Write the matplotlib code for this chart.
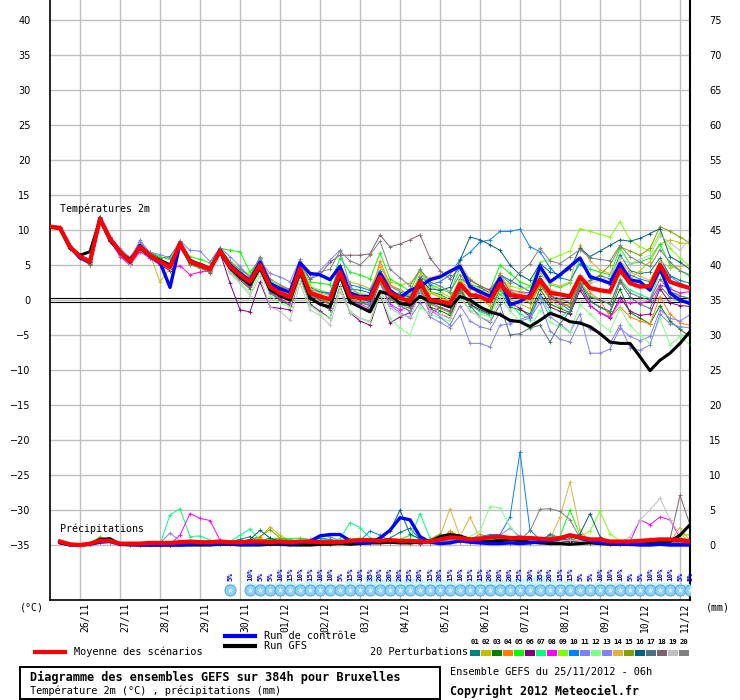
import numpy as np
import matplotlib
matplotlib.use('Agg')
import matplotlib.pyplot as plt
from matplotlib.lines import Line2D
from matplotlib.patches import Rectangle
import matplotlib.transforms as mtransforms

# run 25/11/2012 06h, one value every 6 h up to 384 h
hours = np.arange(0, 385, 6)
days = ['26/11', '27/11', '28/11', '29/11', '30/11', '01/12', '02/12', '03/12',
        '04/12', '05/12', '06/12', '07/12', '08/12', '09/12', '10/12', '11/12']
day_hours = np.arange(18, 385, 24)

colors = ['#008080', '#c0c000', '#008000', '#ff8000', '#00ff00', '#800080', '#00ff80',
          '#ff00ff', '#80ff00', '#0080ff', '#8080ff', '#80ff80', '#8080f0', '#e0b040',
          '#80a000', '#006080', '#507080', '#806070', '#c0c0c0', '#808080']

# ---- temperature 2m (°C)
t_mean = [10.5, 10.3, 7.6, 6.2, 5.5, 11.6, 8.8, 6.9, 5.5, 7.6, 6.4, 5.5, 4.7, 8.1, 5.5, 5.0, 4.4, 7.0,
          4.8, 3.6, 2.6, 5.0, 1.9, 1.0, 0.4, 4.5, 1.0, 0.5, 0.1, 4.0, 0.5, 0.3, 0.2, 3.3, 1.0, 0.3, -0.2,
          2.6, 0.0, -0.2, -0.5, 2.3, 0.7, 0.5, -0.2, 2.4, 0.7, 0.5, 0.3, 2.9, 1.0, 0.8, 0.5, 3.3, 1.7, 1.4,
          1.2, 4.3, 2.4, 1.9, 2.0, 5.0, 2.6, 2.1, 1.7]
t_ctrl = [10.5, 10.3, 7.6, 6.0, 5.4, 11.7, 8.7, 6.8, 5.4, 7.8, 6.3, 5.4, 1.8, 8.0, 5.6, 4.9, 4.4, 7.1,
          5.0, 3.8, 2.8, 5.4, 2.4, 1.6, 1.1, 5.3, 3.8, 3.6, 2.9, 4.8, 1.0, 0.5, 0.5, 3.8, 1.4, 0.3, 1.4,
          1.9, 2.9, 3.3, 4.1, 4.8, 1.9, 1.2, 0.5, 3.1, -0.7, -0.2, 0.7, 4.8, 2.6, 3.6, 4.8, 6.0, 3.3, 2.9,
          2.4, 5.2, 2.9, 2.6, 1.4, 4.5, 1.0, 0.0, -0.5]
t_gfs = [10.4, 10.2, 7.4, 6.4, 6.9, 11.5, 8.5, 6.8, 5.8, 7.4, 6.3, 5.7, 5.0, 7.9, 5.6, 5.1, 4.5, 6.8,
         4.6, 3.3, 2.2, 4.6, 1.5, 0.6, 0.0, 4.2, 0.3, -0.6, -1.0, 3.5, -0.3, -1.0, -1.7, 1.2, 0.8, -0.5,
         -0.7, 0.5, -0.2, -0.5, -1.0, 0.5, 0.0, -1.0, -1.7, -2.1, -2.9, -3.1, -3.8, -2.9, -1.9, -2.4, -3.1,
         -3.3, -3.8, -4.8, -6.0, -6.2, -6.2, -8.1, -10.1, -8.6, -7.6, -6.2, -4.5]

t_members = [
    [10.4, 10.2, 7.3, 6.0, 5.4, 11.9, 8.6, 6.6, 5.9, 7.8, 6.0, 5.3, 4.9, 8.4, 5.9, 5.1, 4.6, 7.4,
     5.2, 4.0, 3.0, 5.6, 2.5, 1.6, 1.0, 5.0, 1.8, 1.2, 0.8, 4.6, 1.6, 1.4, 1.0, 4.2, 2.0, 1.5, 0.6,
     3.2, 1.2, 0.8, 0.0, 3.0, 2.2, 1.8, 1.0, 3.6, 2.8, 2.0, 1.2, 3.4, 0.8, -0.5, -1.5, 2.0, 2.8, 3.5,
     3.0, 6.5, 4.2, 3.8, 4.0, 6.0, 3.5, 2.8, 2.4],
    [10.6, 10.3, 7.5, 6.4, 5.6, 11.3, 8.9, 7.1, 5.3, 7.2, 6.5, 2.6, 4.5, 7.6, 5.4, 4.8, 4.1, 6.9,
     4.4, 3.0, 2.0, 4.6, 1.5, 0.4, -0.2, 3.8, 0.6, 0.0, -0.6, 3.6, 2.6, 2.2, 1.6, 4.8, 2.6, 2.2, 2.4,
     4.0, 2.0, 1.2, 0.4, 2.6, 1.0, 0.2, -0.8, 2.0, 0.2, -0.6, -1.2, 2.2, 0.0, -1.0, -0.5, 3.0, 2.0, 1.2,
     1.0, 4.6, 3.0, 4.2, 5.5, 8.0, 8.6, 8.2, 8.0],
    [10.5, 10.4, 7.7, 6.1, 5.2, 11.4, 8.5, 7.0, 5.7, 7.9, 6.8, 6.0, 6.2, 8.3, 5.7, 5.2, 4.5, 7.2,
     4.2, 2.8, 1.6, 4.4, 1.0, 0.0, -0.8, 3.6, 0.2, -0.6, -1.4, 3.2, -0.4, -1.0, -1.4, 2.6, 0.2, -0.8, -1.6,
     1.8, -1.0, -1.5, -2.2, 1.4, -0.6, -1.6, -2.2, 1.0, -1.0, -1.4, -2.0, 1.6, -0.6, -1.2, -1.8, 2.4, -0.2, -1.0,
     -1.8, 1.6, -1.8, -2.6, -3.4, -0.8, -3.0, -4.2, -5.2],
    [10.3, 10.1, 7.8, 6.3, 5.7, 11.7, 9.0, 7.2, 5.6, 7.5, 6.5, 5.6, 4.8, 8.5, 5.6, 5.3, 4.7, 7.1,
     5.0, 3.9, 2.8, 5.4, 2.2, 1.4, 0.6, 4.6, 1.4, 0.8, 0.2, 4.4, 1.0, 0.6, 0.2, 5.6, 2.2, 1.4, 0.8,
     3.4, 1.0, 0.4, -0.2, 2.8, 1.6, 1.0, 0.2, 3.8, 1.2, 0.8, 0.4, 3.0, 1.4, 1.0, 0.6, 3.6, 1.0, 0.0,
     -2.4, -1.0, -2.4, -3.0, -3.4, 0.5, -2.0, -3.3, -3.6],
    [10.6, 10.4, 7.5, 6.0, 5.0, 11.5, 8.9, 6.8, 5.8, 7.7, 6.9, 6.2, 5.8, 7.8, 6.2, 5.8, 5.3, 7.4,
     7.1, 6.9, 4.0, 5.8, 2.6, 1.8, 1.2, 5.0, 2.6, 2.4, 2.2, 6.0, 4.0, 3.6, 3.0, 6.7, 3.0, 2.2, 1.2,
     4.4, 2.2, 1.6, 1.0, 4.6, 3.0, 2.0, 1.4, 5.0, 3.8, 2.6, 2.0, 4.4, 2.2, 1.8, 2.4, 5.8, 4.4, 4.0,
     3.6, 7.4, 5.2, 5.4, 6.0, 8.0, 5.0, 4.2, 3.4],
    [10.4, 10.2, 7.4, 6.4, 5.3, 11.2, 8.4, 6.6, 5.2, 7.3, 6.0, 5.0, 4.2, 7.6, 5.2, 4.6, 3.9, 6.8,
     2.4, -1.4, -1.7, 2.6, -1.0, -1.2, -1.4, 3.2, -0.6, -1.6, -2.6, 2.0, -1.8, -3.0, -3.6, 0.8, -3.3, -2.4, -1.8,
     1.0, -1.2, -2.0, -2.6, 1.2, -0.6, -1.4, -2.0, 1.6, -0.4, -1.2, -2.4, 0.8, -1.0, -1.6, -2.0, 1.4, -0.8, -1.8,
     -2.6, 0.4, -1.6, -2.2, -2.0, 1.6, -0.4, -0.8, -0.9],
    [10.5, 10.3, 7.6, 6.2, 5.5, 11.8, 8.7, 7.0, 5.5, 7.6, 6.2, 5.0, 4.7, 8.0, 5.4, 5.0, 4.5, 7.0,
     5.2, 4.2, 3.4, 5.8, 2.4, 1.4, 0.8, 4.8, 1.2, 0.6, 0.0, 4.2, 0.8, 0.2, -0.4, 3.0, 0.4, -0.4, -1.0,
     2.4, 0.0, -0.6, -1.0, 2.0, -0.8, -1.6, -2.2, 1.4, -0.6, -2.0, -2.8, 0.6, -1.6, -2.4, -1.6, 2.8, 0.6, 0.0,
     -0.6, 3.0, 1.4, 0.8, 0.2, 4.0, 1.8, 0.6, 0.2],
    [10.4, 10.2, 7.6, 6.3, 5.6, 11.5, 8.6, 6.2, 5.0, 6.9, 6.0, 5.0, 4.4, 4.9, 3.6, 4.0, 4.2, 6.8,
     4.4, 3.0, 1.8, 5.0, 1.2, 0.2, -0.6, 4.2, 0.4, -0.4, -1.2, 3.4, 0.0, -0.6, -1.2, 2.6, -0.6, -1.4, -1.0,
     1.8, -2.1, -1.0, -1.6, 1.8, 0.6, 1.2, 1.6, 1.7, 1.4, 1.2, 1.0, 2.4, 0.2, -0.4, -1.0, 2.0, -0.8, -1.8,
     -2.4, -0.2, -0.4, -0.4, -0.2, 2.2, 1.6, 1.0, 1.2],
    [10.5, 10.3, 7.7, 6.2, 5.4, 11.6, 8.8, 6.9, 5.6, 7.8, 6.6, 5.7, 4.5, 8.2, 5.6, 5.1, 4.6, 7.5,
     5.6, 4.6, 3.6, 6.0, 2.8, 2.0, 1.6, 5.2, 2.0, 1.4, 1.0, 4.6, 1.4, 1.0, 0.6, 3.8, 1.4, 0.8, 0.2,
     3.0, 1.2, 0.6, 0.0, 2.8, 2.4, 1.6, 0.8, 3.2, 2.0, 1.6, 1.8, 5.4, 5.8, 6.4, 7.0, 10.2, 9.8, 9.4,
     9.0, 11.2, 8.6, 7.6, 7.0, 9.6, 7.4, 6.0, 4.8],
    [10.5, 10.4, 7.4, 6.1, 5.5, 11.9, 9.0, 7.0, 5.4, 7.7, 6.3, 5.4, 4.6, 8.0, 5.3, 5.0, 4.3, 6.9,
     5.0, 3.6, 2.6, 5.2, 2.0, 1.2, 0.6, 4.6, 1.4, 1.2, 1.0, 5.0, 2.2, 1.8, 1.4, 4.2, 2.0, 1.2, 0.4,
     3.4, 2.2, 2.6, 3.6, 5.8, 6.8, 8.3, 8.6, 9.8, 9.8, 10.1, 7.6, 6.9, 4.6, 3.2, 2.8, 5.2, 3.6, 2.8,
     2.2, 4.8, 3.6, 3.0, 2.6, 5.4, 3.4, 2.4, 1.8],
    [10.6, 10.3, 7.7, 6.4, 5.8, 11.4, 9.0, 7.4, 6.1, 8.3, 6.8, 6.5, 6.0, 8.5, 7.1, 7.0, 5.5, 7.5,
     6.2, 4.8, 3.2, 5.6, 3.8, 3.3, 2.6, 5.8, 3.0, 4.2, 5.7, 7.1, 2.0, 0.6, -0.4, 2.4, -0.8, -1.8, -2.6,
     -0.4, -2.4, -3.2, -4.0, -2.2, -6.2, -6.2, -6.7, -3.6, -3.4, -2.8, -2.2, 0.4, -2.4, -3.4, -4.6, -2.0, -7.6, -7.6,
     -7.0, -4.0, -5.2, -5.8, -5.2, -1.4, -2.6, -3.0, -2.1],
    [10.4, 10.2, 7.5, 6.0, 5.3, 11.4, 8.6, 6.8, 5.4, 7.4, 6.5, 5.5, 4.9, 8.0, 5.5, 4.9, 4.2, 7.3,
     4.0, 2.6, 1.0, 4.0, 0.6, -0.4, -1.0, 3.0, -0.8, -1.8, -2.6, 1.8, -1.6, -2.6, -3.2, 0.8, -2.6, -4.0, -5.0,
     -1.0, -2.0, -2.6, -3.0, 0.6, -1.4, -2.0, -2.4, 1.2, -1.6, -3.0, -4.2, -1.4, -3.2, -3.8, -4.6, -0.6, -2.0, -3.4,
     -4.4, -1.2, -3.6, -5.0, -6.2, -2.6, -6.4, -5.2, -6.4],
    [10.5, 10.3, 7.5, 6.2, 5.4, 11.5, 8.7, 6.9, 5.5, 8.6, 6.6, 5.6, 4.7, 8.3, 5.4, 5.1, 4.3, 7.1,
     5.4, 4.0, 2.8, 6.0, 2.4, 1.4, 0.6, 4.4, 0.8, 0.2, -0.4, 3.6, 0.4, 0.0, -0.6, 2.8, 0.2, -0.8, -1.6,
     1.2, -1.4, -2.4, -3.6, -0.8, -3.0, -3.8, -4.2, -1.8, -3.2, -3.0, -2.6, -0.4, -4.4, -5.6, -6.0, -3.0, -4.2, -4.8,
     -6.2, -3.6, -6.8, -7.2, -6.4, -2.0, -3.4, -3.8, -4.0],
    [10.6, 10.4, 7.6, 6.3, 5.6, 11.7, 8.8, 7.0, 5.6, 7.6, 6.4, 5.5, 4.8, 8.1, 5.6, 5.0, 4.5, 7.1,
     5.0, 3.8, 2.8, 5.4, 2.2, 1.4, 0.8, 4.8, 1.6, 1.0, 0.6, 4.4, 1.2, 0.8, 0.6, 5.0, 2.0, 1.4, 0.6,
     3.6, 3.2, 3.6, 4.0, 5.2, 3.0, 2.0, 1.2, 3.4, 1.6, 1.0, 0.8, 3.8, 2.4, 2.0, 2.6, 7.9, 5.6, 4.3,
     3.8, 5.6, 4.0, 3.4, 2.8, 5.6, 4.6, 4.8, 5.0],
    [10.5, 10.2, 7.4, 6.1, 5.2, 11.9, 8.7, 6.5, 5.2, 7.2, 6.1, 5.2, 4.4, 7.9, 5.0, 4.6, 4.0, 6.7,
     4.6, 3.4, 2.4, 4.8, 1.6, 0.8, 0.2, 4.2, 0.8, 0.2, -0.4, 3.6, 0.2, -0.2, -0.8, 2.6, 0.2, -0.6, -1.2,
     1.6, -0.6, -1.2, -1.8, 1.2, -0.4, -1.0, -1.4, 1.6, 0.6, 0.2, -0.4, 2.0, 0.4, -0.2, -1.0, 2.2, 2.6, 3.6,
     5.0, 7.6, 7.0, 6.4, 7.4, 10.5, 9.8, 9.0, 8.1],
    [10.5, 10.3, 7.6, 6.2, 5.5, 11.6, 8.9, 6.9, 5.5, 7.7, 6.5, 5.4, 4.6, 8.2, 5.5, 5.0, 4.6, 7.2,
     4.8, 3.6, 2.4, 4.8, 1.8, 1.0, 0.4, 4.4, 1.2, 0.6, 0.2, 3.8, 0.6, 0.2, -0.2, 3.4, 1.2, 0.8, 0.4,
     3.0, 1.6, 1.4, 1.8, 5.7, 9.0, 8.6, 7.9, 7.1, 5.0, 3.6, 2.8, 5.2, 4.0, 3.6, 4.4, 7.4, 6.2, 7.0,
     7.8, 8.6, 8.4, 8.8, 9.5, 10.2, 6.2, 5.4, 4.4],
    [10.4, 10.2, 7.5, 6.3, 5.6, 11.5, 8.8, 7.0, 5.4, 7.5, 6.3, 5.5, 4.6, 8.0, 5.5, 4.9, 4.4, 7.0,
     4.6, 3.4, 2.2, 4.6, 1.4, 0.6, 0.0, 4.0, 0.6, 0.0, -0.6, 3.6, 0.0, -0.4, -0.8, 3.0, 0.4, -0.2, -0.8,
     2.2, -0.4, -1.0, -1.6, 1.8, -0.8, -2.4, -3.2, -0.6, -5.0, -4.8, -4.0, -3.6, -6.0, -3.4, -1.6, 1.8, -0.2, -1.0,
     -1.6, 2.6, 0.4, -0.6, -1.2, 2.0, 0.4, -0.2, -0.6],
    [10.5, 10.3, 7.4, 6.0, 5.0, 11.8, 8.4, 6.6, 5.1, 7.5, 6.2, 5.3, 4.5, 8.3, 5.3, 4.8, 4.2, 7.4,
     5.2, 4.0, 3.0, 5.4, 2.4, 1.8, 1.6, 5.2, 3.0, 3.6, 5.4, 6.4, 6.4, 6.4, 6.6, 9.3, 7.6, 8.0, 8.6,
     9.3, 6.0, 4.2, 3.0, 4.6, 2.8, 2.0, 1.4, 3.4, 1.2, 0.6, 0.2, 2.6, 0.6, 0.2, -0.4, 2.4, 0.4, 0.0,
     -0.6, 2.8, 1.0, 0.4, 0.0, 3.0, 1.2, 0.6, 0.2],
    [10.5, 10.3, 7.8, 6.4, 5.6, 11.3, 8.7, 6.8, 5.0, 7.4, 6.3, 5.4, 4.6, 8.0, 5.4, 4.8, 4.4, 6.9,
     3.8, 2.4, 0.6, 3.4, -1.0, -1.6, -2.9, 2.4, -1.4, -2.2, -3.6, 1.2, -1.8, -2.6, -3.0, 1.4, -1.2, -2.0, -2.4,
     0.8, -1.4, -2.0, -2.6, 0.4, -1.6, -2.4, -3.0, 0.2, -1.4, -0.6, 0.2, 3.0, 1.6, 1.0, 0.8, 3.6, 2.4, 2.8,
     3.4, 6.0, 5.2, 5.8, 6.4, 9.2, 8.2, 7.1, 8.8],
    [10.6, 10.4, 7.6, 6.1, 5.4, 11.7, 8.8, 7.1, 5.5, 7.8, 6.5, 5.6, 4.8, 8.0, 5.6, 5.2, 4.7, 7.3,
     5.4, 4.4, 3.4, 6.2, 3.0, 2.2, 1.4, 5.6, 3.6, 4.0, 4.4, 7.0, 5.6, 5.0, 6.4, 8.4, 4.4, 3.2, 2.0,
     4.4, 2.6, 2.0, 1.2, 3.6, 1.8, 1.0, 0.6, 3.6, 2.4, 4.0, 5.2, 7.4, 5.6, 5.2, 6.2, 7.2, 6.0, 5.8,
     5.6, 7.8, 6.2, 5.4, 4.8, 7.2, 5.4, 4.2, 3.6],
]

# ---- precipitation (mm per 6 h), from +6 h to +384 h
p_mean = [0.5, 0.1, 0.0, 0.2, 0.6, 0.6, 0.2, 0.2, 0.2, 0.3, 0.3, 0.3, 0.4, 0.5, 0.4, 0.4,
          0.5, 0.4, 0.4, 0.5, 0.5, 0.4, 0.5, 0.4, 0.5, 0.5, 0.4, 0.4, 0.4, 0.6, 0.7, 0.7,
          0.6, 0.7, 0.6, 0.6, 0.5, 0.5, 0.8, 1.1, 1.0, 0.8, 0.9, 1.1, 1.2, 1.0, 1.0, 1.0,
          0.9, 0.8, 1.0, 1.4, 1.1, 0.8, 0.8, 0.5, 0.5, 0.5, 0.6, 0.7, 0.8, 0.8, 0.7, 0.5]
p_ctrl = [0.4, 0.0, 0.0, 0.1, 0.4, 0.5, 0.1, 0.1, 0.0, 0.0, 0.0, 0.0, 0.0, 0.1, 0.2, 0.1,
          0.2, 0.2, 0.1, 0.1, 0.2, 0.3, 0.3, 0.2, 0.3, 0.5, 1.3, 1.5, 1.5, 0.6, 0.3, 0.3,
          1.0, 2.1, 3.9, 3.6, 1.2, 0.4, 0.2, 0.3, 0.6, 0.4, 0.3, 0.2, 0.2, 0.3, 0.2, 0.3,
          0.5, 0.6, 0.9, 1.4, 1.0, 0.6, 0.3, 0.2, 0.1, 0.1, 0.0, 0.0, 0.1, 0.0, 0.0, 0.0]
p_gfs = [0.3, 0.0, 0.0, 0.1, 0.8, 0.9, 0.1, 0.0, 0.0, 0.0, 0.0, 0.0, 0.0, 0.0, 0.0, 0.0,
         0.1, 0.1, 0.0, 0.0, 0.0, 0.1, 0.1, 0.0, 0.0, 0.0, 0.1, 0.1, 0.2, 0.1, 0.2, 0.3,
         0.3, 0.4, 0.3, 0.3, 0.4, 0.5, 1.2, 1.5, 1.3, 0.8, 0.6, 0.5, 0.6, 0.8, 0.6, 0.4,
         0.3, 0.2, 0.2, 0.1, 0.2, 0.3, 0.2, 0.1, 0.1, 0.2, 0.1, 0.2, 0.4, 0.5, 1.4, 2.9]

p_members = [
    [0.4, 0.1, 0.0, 0.1, 0.5, 0.4, 0.1, 0.0, 0.0, 0.1, 0.1, 0.0, 0.2, 0.3, 0.2, 0.1,
     0.3, 0.5, 0.8, 1.2, 0.6, 0.4, 0.3, 0.2, 0.2, 0.3, 0.2, 0.2, 0.4, 0.6, 0.8, 0.5,
     0.6, 1.0, 1.8, 2.4, 0.8, 0.4, 0.3, 0.5, 0.7, 0.6, 0.4, 0.5, 0.8, 0.5, 0.4, 0.3,
     0.5, 1.4, 0.8, 0.6, 0.4, 0.3, 0.2, 0.2, 0.1, 0.2, 0.3, 0.4, 0.6, 0.5, 0.4, 0.3],
    [0.4, 0.2, 0.0, 0.2, 1.2, 0.6, 0.2, 0.1, 0.1, 0.1, 0.0, 0.1, 0.1, 0.2, 0.3, 0.2,
     0.3, 0.2, 0.4, 0.6, 1.0, 2.6, 1.4, 0.6, 0.4, 0.2, 0.3, 0.3, 0.2, 0.3, 0.5, 0.4,
     0.6, 0.3, 0.4, 0.2, 0.3, 0.6, 0.4, 2.0, 1.0, 0.6, 0.4, 0.3, 0.5, 0.8, 0.4, 0.6,
     0.5, 0.3, 0.4, 0.5, 0.6, 0.4, 0.8, 0.3, 0.2, 0.3, 0.4, 0.6, 0.8, 0.5, 1.6, 1.4],
    [0.4, 0.1, 0.0, 0.1, 0.6, 0.6, 0.2, 0.1, 0.0, 0.1, 0.1, 0.0, 0.1, 0.1, 0.2, 0.1,
     0.2, 0.3, 0.3, 0.4, 0.5, 1.0, 0.6, 0.4, 0.3, 0.3, 0.2, 0.2, 0.4, 0.5, 0.4, 0.6,
     0.5, 0.4, 0.6, 0.8, 0.6, 0.4, 0.5, 1.6, 1.0, 0.6, 0.8, 1.0, 0.6, 0.4, 0.6, 0.9,
     0.6, 0.4, 0.5, 0.8, 1.0, 0.6, 0.4, 0.3, 0.4, 0.3, 0.2, 0.4, 0.3, 0.2, 0.3, 0.6],
    [0.4, 0.1, 0.0, 0.1, 0.5, 0.5, 0.1, 0.1, 0.1, 0.0, 0.1, 0.1, 0.2, 0.2, 0.3, 0.4,
     0.4, 0.3, 0.3, 0.5, 0.8, 0.6, 0.4, 0.3, 0.3, 0.4, 0.3, 0.3, 0.5, 0.6, 0.9, 0.5,
     0.4, 0.6, 0.4, 0.3, 0.5, 0.6, 0.8, 2.0, 1.2, 0.6, 1.6, 0.8, 0.5, 0.6, 0.4, 0.5,
     0.4, 0.6, 0.8, 1.2, 0.8, 0.5, 0.3, 0.4, 0.3, 0.2, 0.3, 0.4, 0.5, 0.4, 0.6, 0.5],
    [0.4, 0.1, 0.0, 0.1, 0.6, 0.5, 0.1, 0.1, 0.1, 0.1, 0.1, 0.2, 0.2, 0.1, 0.2, 0.2,
     0.3, 0.4, 0.5, 0.6, 0.6, 0.8, 1.0, 0.9, 1.0, 0.8, 0.9, 0.7, 0.6, 0.8, 1.0, 0.6,
     0.5, 0.6, 0.8, 1.4, 1.0, 0.6, 0.6, 0.5, 0.8, 0.6, 0.5, 0.8, 1.2, 0.6, 0.5, 0.6,
     0.6, 0.8, 1.2, 5.0, 1.4, 0.8, 0.4, 0.3, 0.3, 0.4, 0.4, 0.5, 0.5, 0.4, 0.5, 0.6],
    [0.4, 0.1, 0.0, 0.1, 0.5, 0.5, 0.1, 0.1, 0.1, 0.1, 0.0, 0.0, 0.1, 0.1, 0.1, 0.1,
     0.2, 0.2, 0.2, 0.2, 0.3, 0.2, 0.2, 0.1, 0.2, 0.2, 0.3, 0.2, 0.3, 0.3, 0.2, 0.3,
     0.3, 0.4, 0.3, 0.3, 0.2, 0.3, 0.4, 0.4, 0.5, 0.4, 0.3, 0.5, 0.4, 0.3, 0.4, 0.5,
     0.4, 0.3, 0.4, 0.5, 0.4, 0.3, 0.3, 0.2, 0.2, 0.3, 0.4, 0.8, 0.6, 0.3, 0.2, 0.3],
    [0.4, 0.1, 0.0, 0.1, 0.5, 0.5, 0.1, 0.1, 0.1, 0.1, 0.1, 4.3, 5.2, 1.2, 1.3, 0.7,
     0.3, 0.5, 1.4, 2.3, 0.6, 0.5, 0.8, 0.7, 0.6, 0.8, 0.7, 0.6, 0.9, 3.2, 2.5, 1.0,
     0.8, 0.6, 0.6, 0.8, 4.5, 1.0, 0.6, 0.5, 0.6, 0.6, 0.8, 1.0, 0.9, 0.8, 0.6, 0.5,
     0.6, 1.2, 0.8, 0.8, 0.6, 0.4, 0.4, 0.3, 0.3, 0.4, 0.5, 0.4, 0.3, 0.4, 0.5, 0.4],
    [0.4, 0.1, 0.0, 0.1, 0.5, 0.5, 0.1, 0.1, 0.1, 0.1, 0.1, 0.1, 1.4, 4.5, 3.8, 3.5,
     0.7, 0.3, 0.3, 0.3, 0.4, 0.3, 0.3, 0.2, 0.3, 0.3, 0.3, 0.2, 0.3, 0.3, 0.4, 0.4,
     0.4, 0.5, 0.5, 0.4, 0.4, 0.4, 0.5, 0.6, 0.6, 0.5, 0.6, 0.6, 0.6, 0.5, 0.5, 0.6,
     0.5, 0.5, 0.6, 0.7, 0.6, 0.5, 0.4, 0.3, 0.3, 0.5, 3.6, 2.9, 4.0, 3.6, 1.0, 0.6],
    [0.4, 0.1, 0.0, 0.1, 0.6, 0.5, 0.1, 0.1, 0.1, 0.1, 0.1, 0.1, 0.1, 0.2, 0.2, 0.2,
     0.3, 0.3, 0.2, 0.3, 0.4, 0.5, 0.4, 0.3, 0.3, 0.3, 0.3, 0.2, 0.3, 0.4, 0.4, 0.4,
     0.4, 0.5, 0.5, 0.4, 0.6, 0.8, 0.6, 0.6, 0.6, 0.5, 0.6, 0.6, 0.6, 0.5, 0.5, 0.6,
     0.5, 0.5, 0.6, 0.9, 1.2, 2.0, 4.8, 1.6, 0.6, 0.4, 0.4, 0.4, 0.4, 0.8, 1.2, 1.5],
    [0.4, 0.1, 0.0, 0.1, 0.5, 0.5, 0.1, 0.1, 0.1, 0.1, 0.1, 0.1, 0.1, 0.2, 0.2, 0.2,
     0.3, 0.3, 0.2, 0.3, 0.3, 0.3, 0.4, 0.5, 0.4, 0.6, 1.0, 0.8, 0.4, 0.4, 0.6, 2.0,
     1.4, 0.6, 0.5, 0.4, 0.4, 0.4, 0.5, 0.6, 0.8, 1.0, 1.2, 1.5, 1.5, 4.0, 13.3, 2.1,
     0.8, 0.5, 0.6, 0.7, 0.6, 0.5, 0.4, 0.3, 0.3, 0.3, 0.4, 0.4, 0.4, 0.5, 0.4, 0.4],
    [0.4, 0.1, 0.0, 0.1, 0.5, 0.5, 0.1, 0.1, 0.1, 0.1, 0.3, 1.7, 0.6, 0.3, 0.2, 0.2,
     0.3, 0.3, 0.2, 0.3, 0.3, 0.3, 0.3, 0.2, 0.3, 0.3, 0.3, 0.2, 0.3, 0.4, 0.4, 0.4,
     0.4, 0.5, 0.5, 0.4, 0.4, 0.6, 0.8, 0.6, 0.6, 0.5, 0.8, 1.0, 1.4, 2.4, 1.2, 0.8,
     0.6, 0.5, 0.6, 0.7, 0.6, 0.5, 0.4, 0.3, 0.3, 0.3, 0.4, 0.4, 0.4, 0.5, 0.4, 0.4],
    [0.4, 0.1, 0.0, 0.1, 0.5, 0.5, 0.1, 0.1, 0.1, 0.1, 0.1, 0.1, 0.1, 0.2, 0.2, 0.2,
     0.3, 0.3, 0.2, 0.3, 0.3, 0.3, 0.3, 0.2, 0.3, 0.3, 0.3, 0.2, 0.3, 0.4, 0.4, 0.4,
     0.4, 0.5, 0.5, 0.4, 0.4, 0.4, 0.5, 0.6, 0.8, 1.2, 2.0, 5.5, 5.3, 2.6, 0.8, 0.6,
     0.5, 0.5, 0.6, 0.7, 0.6, 0.5, 0.4, 0.3, 0.3, 0.3, 0.4, 0.4, 0.4, 0.5, 0.4, 0.4],
    [0.4, 0.1, 0.0, 0.1, 0.5, 0.5, 0.1, 0.1, 0.1, 0.1, 0.1, 0.1, 0.1, 0.2, 0.2, 0.2,
     0.3, 0.3, 0.2, 0.3, 0.3, 0.3, 0.3, 0.2, 0.3, 0.8, 1.4, 1.2, 0.6, 0.4, 0.4, 0.4,
     0.4, 0.5, 0.5, 0.4, 0.4, 0.4, 0.5, 0.6, 0.6, 0.5, 0.6, 0.6, 0.6, 1.0, 1.4, 0.6,
     0.5, 0.5, 0.6, 0.7, 0.6, 0.5, 0.4, 0.3, 0.3, 0.3, 0.4, 0.4, 0.4, 0.5, 0.4, 0.4],
    [0.4, 0.1, 0.0, 0.1, 0.5, 0.5, 0.1, 0.1, 0.1, 0.1, 0.1, 0.1, 0.1, 0.2, 0.2, 0.2,
     0.3, 0.3, 0.2, 0.3, 0.3, 0.3, 0.3, 0.2, 0.3, 0.3, 0.3, 0.2, 0.3, 0.4, 0.4, 0.4,
     0.4, 0.5, 0.5, 0.4, 0.4, 0.6, 1.2, 5.2, 1.2, 4.0, 1.0, 0.6, 0.6, 0.5, 0.5, 0.6,
     0.5, 0.8, 4.0, 9.0, 2.1, 0.5, 0.4, 0.3, 0.3, 0.3, 0.4, 0.4, 0.4, 0.5, 2.5, 0.6],
    [0.4, 0.2, 0.0, 0.2, 1.1, 0.6, 0.2, 0.1, 0.1, 0.1, 0.1, 0.1, 0.1, 0.2, 0.2, 0.2,
     0.3, 0.3, 0.4, 0.8, 1.2, 2.2, 1.0, 0.6, 0.3, 0.3, 0.3, 0.2, 0.3, 0.4, 0.4, 0.4,
     0.4, 0.5, 0.5, 0.4, 0.4, 0.8, 1.6, 0.8, 0.6, 0.5, 0.6, 0.6, 0.6, 0.5, 0.5, 0.6,
     0.5, 0.5, 0.6, 0.7, 0.6, 0.5, 0.4, 0.3, 0.3, 0.3, 0.4, 0.4, 0.4, 0.8, 1.0, 0.8],
    [0.4, 0.1, 0.0, 0.1, 0.5, 0.5, 0.1, 0.1, 0.1, 0.1, 0.1, 0.1, 0.1, 0.2, 0.2, 0.2,
     0.3, 0.3, 0.4, 0.8, 2.1, 1.0, 0.4, 0.2, 0.3, 0.3, 0.3, 0.2, 0.3, 0.4, 0.4, 0.6,
     1.0, 2.0, 5.0, 1.6, 0.8, 0.4, 0.5, 0.6, 0.6, 0.5, 0.6, 0.6, 0.6, 0.5, 0.5, 0.6,
     0.5, 0.5, 0.6, 0.9, 1.6, 4.5, 1.2, 0.3, 0.3, 0.3, 0.4, 0.4, 0.4, 0.5, 0.4, 0.4],
    [0.4, 0.1, 0.0, 0.1, 0.5, 0.5, 0.1, 0.1, 0.1, 0.1, 0.1, 0.1, 0.1, 0.2, 0.2, 0.2,
     0.3, 0.3, 0.2, 0.3, 0.3, 0.3, 0.3, 0.2, 0.3, 0.3, 0.3, 0.2, 0.3, 0.4, 0.4, 0.4,
     0.4, 0.5, 0.5, 0.4, 0.4, 0.4, 0.5, 0.6, 0.6, 0.5, 0.6, 0.6, 0.6, 0.5, 0.5, 0.6,
     0.5, 1.6, 1.0, 0.7, 0.6, 0.5, 0.4, 0.3, 0.3, 0.3, 0.4, 0.4, 0.4, 0.5, 0.4, 0.4],
    [0.4, 0.1, 0.0, 0.1, 0.5, 0.5, 0.1, 0.1, 0.1, 0.1, 0.1, 0.1, 0.1, 0.2, 0.2, 0.2,
     0.3, 0.3, 0.2, 0.3, 0.3, 0.3, 0.3, 0.2, 0.3, 0.3, 0.3, 0.2, 0.3, 0.4, 0.4, 0.4,
     0.4, 0.5, 0.5, 0.4, 0.4, 0.4, 0.5, 0.6, 0.6, 0.5, 0.6, 0.6, 0.6, 0.5, 0.5, 0.6,
     0.5, 0.5, 0.6, 0.7, 0.6, 0.5, 0.4, 0.3, 0.3, 0.3, 0.4, 0.4, 0.4, 0.8, 7.1, 2.9],
    [0.4, 0.1, 0.0, 0.1, 0.5, 0.5, 0.1, 0.1, 0.1, 0.1, 0.1, 0.1, 0.1, 0.2, 0.2, 0.2,
     0.3, 0.3, 0.2, 0.3, 0.3, 0.3, 0.3, 0.2, 0.3, 0.3, 0.3, 0.2, 0.3, 0.4, 0.4, 0.4,
     0.4, 0.5, 0.5, 0.4, 0.4, 0.4, 0.5, 0.6, 0.6, 0.5, 0.6, 0.6, 0.6, 0.5, 0.5, 0.6,
     0.5, 0.5, 0.6, 0.7, 0.6, 0.5, 0.4, 0.3, 0.3, 1.2, 3.6, 5.0, 6.7, 3.6, 1.5, 0.6],
    [0.4, 0.1, 0.0, 0.1, 0.5, 0.5, 0.1, 0.1, 0.1, 0.1, 0.1, 0.1, 0.1, 0.2, 0.2, 0.2,
     0.3, 0.3, 0.2, 0.3, 0.3, 0.3, 0.3, 0.2, 0.3, 0.3, 0.3, 0.2, 0.3, 0.4, 0.4, 0.4,
     0.4, 0.5, 0.5, 0.4, 0.4, 0.4, 0.5, 0.6, 0.6, 0.5, 0.6, 0.6, 0.6, 0.5, 0.8, 2.0,
     5.1, 5.2, 4.8, 3.6, 1.0, 0.6, 0.4, 0.3, 0.3, 0.3, 0.4, 0.4, 0.4, 0.5, 0.4, 0.4],
]

# ---- snow probability (%) per step
snow_steps = [18] + list(range(20, 65))
snow_pct = [5, 10, 5, 5, 10, 15, 10, 15, 10, 10, 5, 15, 10, 35, 20, 20, 20, 25, 20, 15, 20, 15, 10,
            15, 15, 20, 20, 20, 25, 30, 35, 20, 15, 15, 5, 5, 10, 10, 10, 5, 5, 10, 10, 10, 5, 5]

for name, s in [('mean', t_mean), ('ctrl', t_ctrl), ('gfs', t_gfs)] + \
        [('t%02d' % (k + 1), s) for k, s in enumerate(t_members)]:
    if len(s) != 65:
        raise ValueError(name + ' has %d values' % len(s))
for name, s in [('pmean', p_mean), ('pctrl', p_ctrl), ('pgfs', p_gfs)] + \
        [('p%02d' % (k + 1), s) for k, s in enumerate(p_members)]:
    if len(s) != 64:
        raise ValueError(name + ' has %d values' % len(s))
if len(snow_steps) != len(snow_pct):
    raise ValueError('snow')

PREC_OFF = 35.0   # precipitation 0 mm sits on -35 °C
mono = 'DejaVu Sans Mono'

fig = plt.figure(figsize=(7.4, 7.0), dpi=100)
ax = fig.add_axes([50 / 740, 100 / 700, 640 / 740, 600 / 700])
lim = 300 / 7
ax.set_ylim(-lim, lim)
ax.set_xlim(0, 384)

ax.set_yticks(np.arange(-35, 41, 5))
ax.set_xticks(day_hours)
ax.set_xticklabels(days, rotation=90, va='top', ha='center', family=mono, fontsize=7)
ax.grid(True, color='#c0c0c0', lw=1.0, zorder=0)
ax.set_axisbelow(True)
ax.tick_params(axis='both', length=0)
ax.tick_params(axis='y', pad=14, labelsize=7)
ax.tick_params(axis='x', pad=2)
for lab in ax.get_yticklabels():
    lab.set_family('DejaVu Sans')
off = mtransforms.ScaledTranslation(5 / 100, 0, fig.dpi_scale_trans)
for lab in ax.get_xticklabels():
    lab.set_transform(lab.get_transform() + off)
ax.spines['top'].set_visible(False)
for sp in ('left', 'right', 'bottom'):
    ax.spines[sp].set_linewidth(1.2)

sec = ax.secondary_yaxis('right', functions=(lambda y: y + PREC_OFF, lambda y: y - PREC_OFF))
sec.set_yticks(np.arange(0, 76, 5))
sec.tick_params(length=0, pad=14, labelsize=7)
sec.spines['right'].set_linewidth(1.5)

# zero line (double)
ax.axhline(0.32, color='black', lw=0.8, zorder=1.5)
ax.axhline(-0.32, color='black', lw=0.8, zorder=1.5)

ph = hours[1:]
for k in range(20):
    ax.plot(hours, t_members[k], color=colors[k], lw=0.7, marker='+', ms=2.6, mew=0.6, zorder=2)
    ax.plot(ph, np.array(p_members[k]) - PREC_OFF, color=colors[k], lw=0.7,
            marker='+', ms=2.6, mew=0.6, zorder=2)

ax.plot(hours, t_gfs, color='black', lw=2.2, zorder=3)
ax.plot(ph, np.array(p_gfs) - PREC_OFF, color='black', lw=2.2, zorder=3)
ax.plot(hours, t_ctrl, color='#0000ff', lw=2.4, zorder=3.2)
ax.plot(ph, np.array(p_ctrl) - PREC_OFF, color='#0000ff', lw=2.4, zorder=3.2)
ax.plot(hours, t_mean, color='#ff0000', lw=3.0, zorder=4)
ax.plot(ph, np.array(p_mean) - PREC_OFF, color='#ff0000', lw=3.0, zorder=4)

ax.text(6, 13.1, 'Températures 2m', family=mono, fontsize=7.2, va='center', ha='left', zorder=5)
ax.text(6, -32.7, 'Précipitations', family=mono, fontsize=7.2, va='center', ha='left', zorder=5)

# snow row
sh = hours[snow_steps]
base = (300 - 590) / 7
band = [(5 + p * 0.25) / 7 for p in snow_pct]
ax.bar(sh, band, bottom=base, width=6, color='#cdf5ff', zorder=5, lw=0)
ax.scatter(sh, [base] * len(sh), s=64, marker='o', color='#8fd0f2', edgecolor='#3fa0e6',
           lw=0.6, zorder=6)
ax.scatter(sh, [base] * len(sh), s=22, marker='*', color='#d8f2ff', lw=0, zorder=7)
for h, p in zip(sh, snow_pct):
    ax.text(h, base + 1.3, '%d%%' % p, rotation=90, ha='center', va='bottom', fontsize=5.3,
            color='#0000ff', family=mono, fontweight='bold', zorder=7)


def fx(x):
    return x / 740


def fy(y):
    return 1 - y / 700


fig.text(fx(20), fy(607), '(°C)', family=mono, fontsize=7.2, va='center', ha='left')
fig.text(fx(706), fy(607), '(mm)', family=mono, fontsize=7.2, va='center', ha='left')

# legend
fig.add_artist(Line2D([fx(225), fx(255)], [fy(636)] * 2, color='#0000ff', lw=3))
fig.text(fx(264), fy(636), 'Run de contrôle', family=mono, fontsize=7.4, va='center')
fig.add_artist(Line2D([fx(225), fx(255)], [fy(646)] * 2, color='black', lw=3))
fig.text(fx(264), fy(646), 'Run GFS', family=mono, fontsize=7.4, va='center')
fig.add_artist(Line2D([fx(35), fx(65)], [fy(652)] * 2, color='#ff0000', lw=3))
fig.text(fx(74), fy(652), 'Moyenne des scénarios', family=mono, fontsize=7.4, va='center')
fig.text(fx(370), fy(652), '20 Perturbations', family=mono, fontsize=7.4, va='center')
for k in range(20):
    x0 = 470 + 11 * k
    fig.add_artist(Rectangle((fx(x0), fy(656)), 10 / 740, 6 / 700, color=colors[k], lw=0))
    fig.text(fx(x0 + 5), fy(642), '%02d' % (k + 1), family=mono, fontsize=5.2,
             fontweight='bold', ha='center', va='center')

fig.add_artist(Rectangle((fx(20), fy(699)), 420 / 740, 32 / 700, fill=False, ec='black', lw=1.4))
fig.text(fx(30), fy(677), 'Diagramme des ensembles GEFS sur 384h pour Bruxelles', family=mono,
         fontsize=8.6, fontweight='bold', va='center')
fig.text(fx(30), fy(691), 'Température 2m (°C) , précipitations (mm)', family=mono,
         fontsize=7.4, va='center')
fig.text(fx(450), fy(672), 'Ensemble GEFS du 25/11/2012 - 06h', family=mono, fontsize=7.4,
         va='center')
fig.text(fx(450), fy(691), 'Copyright 2012 Meteociel.fr', family=mono, fontsize=8.4,
         fontweight='bold', va='center')

fig.savefig('out.png', dpi=100, facecolor='white')
